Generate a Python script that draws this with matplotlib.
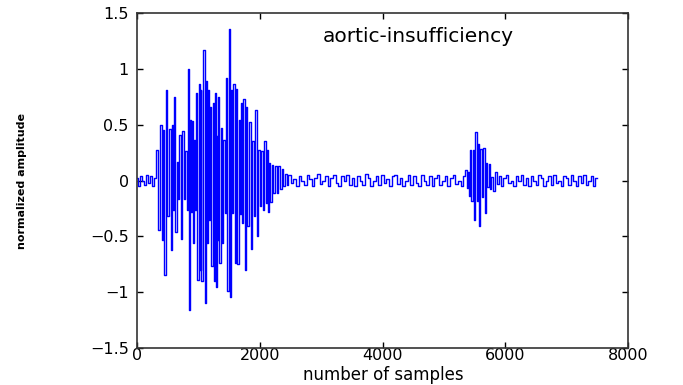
import numpy as np
import matplotlib.pyplot as plt

# first burst: sample position, upper and lower excursion of each spike
burst1_pos = [342, 402, 445, 494, 548, 592, 624, 668, 711, 766, 809, 842,
              879, 917, 950, 983, 1026, 1048, 1102, 1135, 1167, 1211, 1254,
              1287, 1314, 1341, 1384, 1428, 1471, 1515, 1547, 1591, 1634,
              1677, 1710, 1754, 1797, 1851, 1906, 1949, 2003, 2047, 2101,
              2134, 2166, 2220, 2275, 2329, 2383, 2438]
burst1_hi = [0.27, 0.50, 0.45, 0.81, 0.46, 0.50, 0.75, 0.17, 0.41, 0.44,
             0.26, 1.00, 0.54, 0.53, 0.36, 0.78, 0.86, 0.81, 1.17, 0.89,
             0.81, 0.66, 0.69, 0.78, 0.40, 0.75, 0.47, 0.36, 0.92, 1.36,
             0.81, 0.86, 0.82, 0.54, 0.69, 0.73, 0.66, 0.52, 0.35, 0.63,
             0.27, 0.26, 0.35, 0.27, 0.16, 0.14, 0.13, 0.13, 0.10, 0.06]
burst1_lo = [-0.44, -0.53, -0.85, -0.32, -0.62, -0.26, -0.46, -0.17, -0.52,
             -0.17, -0.26, -1.16, -0.28, -0.56, -0.26, -0.89, -0.80, -0.90,
             -1.10, -0.56, -0.35, -0.77, -0.90, -0.95, -0.53, -0.74, -0.56,
             -0.29, -0.99, -1.04, -0.29, -0.74, -0.75, -0.30, -0.38, -0.80,
             -0.41, -0.61, -0.32, -0.50, -0.23, -0.26, -0.20, -0.28, -0.19,
             -0.11, -0.11, -0.08, -0.05, -0.04]

# second burst
burst2_pos = [5369, 5412, 5445, 5489, 5532, 5576, 5614, 5662, 5706, 5749,
              5793, 5869]
burst2_hi = [0.09, 0.08, 0.27, 0.27, 0.43, 0.33, 0.28, 0.29, 0.16, 0.15,
             0.03, 0.08]
burst2_lo = [-0.07, -0.14, -0.18, -0.35, -0.18, -0.41, -0.15, -0.29,
             -0.06, -0.08, -0.09, -0.03]

# low-level background between the bursts (signed values, evenly sampled)
quiet_start = [0.02, -0.05, 0.04, 0.00, -0.04, 0.05, -0.02, 0.04, -0.05,
               0.02]
quiet_mid = [0.05, -0.02, 0.01, -0.05, 0.04, 0.00, -0.04, 0.05, 0.01,
             -0.05, 0.02, 0.06, -0.03, 0.00, 0.04, -0.05, 0.02, 0.05,
             -0.02, -0.05, 0.04, 0.00, 0.05, -0.04, 0.02, -0.05, 0.04,
             0.00, -0.04, 0.06, 0.02, -0.05, 0.00, 0.04, -0.04, 0.05,
             -0.02, 0.01, -0.05, 0.04, 0.05, -0.03, 0.02, -0.05, 0.00,
             0.05, -0.04, 0.04, -0.02, -0.05, 0.05, 0.00, -0.04, 0.04,
             -0.05, 0.02, 0.05, -0.04, 0.00, 0.04, -0.05, 0.02, 0.05,
             -0.03, 0.00, -0.05, 0.04]
quiet_end = [0.04, -0.05, 0.02, 0.05, -0.02, 0.00, -0.05, 0.04, 0.00,
             0.05, -0.04, 0.02, -0.05, 0.04, 0.00, -0.04, 0.05, 0.02,
             -0.05, 0.00, 0.04, -0.04, 0.05, -0.02, 0.00, -0.05, 0.04,
             0.02, -0.04, 0.05, 0.00, -0.05, 0.04, -0.02, 0.05, -0.04,
             0.00, 0.04, -0.05, 0.02]

xticks = [0, 2000, 4000, 6000, 8000]
yticks = [-1.5, -1, -0.5, 0, 0.5, 1, 1.5]
ytick_labels = ["\u22121.5", "\u22121", "\u22120.5", "0", "0.5", "1", "1.5"]


def spikes(pos, hi, lo, half=12):
    xs, ys = [], []
    for p, h, l in zip(pos, hi, lo):
        xs += [p - half, p + half]
        ys += [h, l]
    return xs, ys


x1, y1 = spikes(burst1_pos, burst1_hi, burst1_lo)
x2, y2 = spikes(burst2_pos, burst2_hi, burst2_lo)
xq0 = np.linspace(0, 300, len(quiet_start))
xq1 = np.linspace(2480, 5340, len(quiet_mid))
xq2 = np.linspace(5910, 7490, len(quiet_end))

x = np.concatenate([xq0, x1, xq1, x2, xq2])
y = np.concatenate([quiet_start, y1, quiet_mid, y2, quiet_end])

fig = plt.figure(figsize=(6.83, 3.85), dpi=100)
ax = fig.add_axes([0.2006, 0.0961, 0.7189, 0.8701])
ax.plot(x, y, color="#0000ff", lw=1.0, drawstyle="steps-mid")

ax.set_xlim(0, 8000)
ax.set_ylim(-1.5, 1.5)
ax.set_xticks(xticks)
ax.set_xticklabels([str(t) for t in xticks])
ax.set_yticks(yticks)
ax.set_yticklabels(ytick_labels)
ax.tick_params(direction="in", top=True, right=True, length=4,
               labelsize=11.5, width=1)
ax.tick_params(axis="x", pad=0)
ax.tick_params(axis="y", pad=6)
for s in ax.spines.values():
    s.set_linewidth(1.2)
    s.set_color("#333333")

ax.text(4590, 1.29, "aortic-insufficiency", fontsize=14.5, ha="center",
        va="center")
fig.text(0.5614, 0.026, "number of samples", fontsize=12, ha="center",
         va="center")
fig.text(0.032, 0.53, "normalized amplitude", rotation=90, fontsize=8,
         fontweight="bold", ha="center", va="center")

fig.savefig("out.png", dpi=100)
